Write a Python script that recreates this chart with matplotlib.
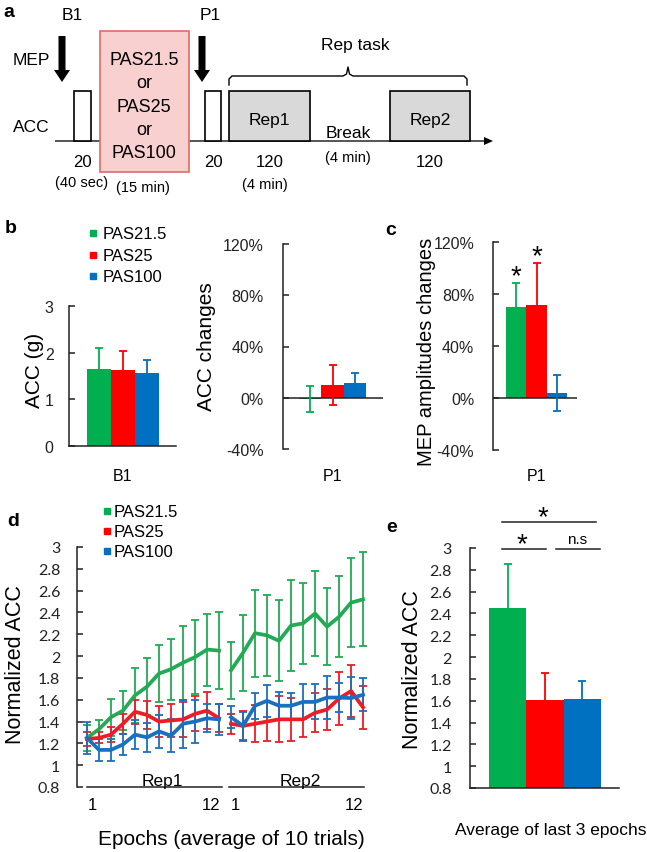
import matplotlib
matplotlib.use('Agg')
import matplotlib.pyplot as plt
from matplotlib.patches import Rectangle, FancyArrow
import numpy as np

plt.rcParams['font.family'] = ['Liberation Sans', 'DejaVu Sans']

# ---------------- data ----------------
groups = ['PAS21.5', 'PAS25', 'PAS100']
colors = ['#00b050', '#ff0000', '#0070c0']

acc_b1 = [1.65, 1.63, 1.56]
acc_b1_err = [0.45, 0.41, 0.29]

acc_chg_p1 = [-1.0, 10.0, 11.6]
acc_chg_err = [10.0, 15.5, 8.0]

mep_chg_p1 = [70.0, 71.5, 4.0]
mep_chg_err = [18.5, 32.5, 14.0]
mep_sig = [True, True, False]

green_rep1 = [1.25, 1.33, 1.44, 1.50, 1.64, 1.72, 1.84, 1.88, 1.94, 1.99, 2.06, 2.05]
green_rep1_err = [0.12, 0.08, 0.17, 0.18, 0.25, 0.26, 0.26, 0.28, 0.34, 0.34, 0.33, 0.35]
green_rep2 = [1.87, 2.03, 2.21, 2.19, 2.14, 2.28, 2.30, 2.39, 2.27, 2.36, 2.49, 2.52]
green_rep2_err = [0.26, 0.35, 0.40, 0.37, 0.37, 0.42, 0.37, 0.39, 0.35, 0.37, 0.41, 0.43]

red_rep1 = [1.24, 1.25, 1.28, 1.38, 1.49, 1.46, 1.40, 1.41, 1.42, 1.47, 1.50, 1.43]
red_rep1_err = [0.06, 0.05, 0.07, 0.09, 0.11, 0.13, 0.14, 0.15, 0.16, 0.16, 0.17, 0.13]
red_rep2 = [1.38, 1.36, 1.38, 1.40, 1.42, 1.42, 1.42, 1.48, 1.51, 1.61, 1.68, 1.53]
red_rep2_err = [0.09, 0.14, 0.17, 0.18, 0.21, 0.20, 0.16, 0.18, 0.19, 0.245, 0.24, 0.20]

blue_rep1 = [1.25, 1.14, 1.14, 1.19, 1.28, 1.255, 1.31, 1.27, 1.38, 1.40, 1.43, 1.42]
blue_rep1_err = [0.15, 0.10, 0.10, 0.10, 0.13, 0.13, 0.15, 0.15, 0.22, 0.20, 0.13, 0.14]
blue_rep2 = [1.44, 1.36, 1.545, 1.59, 1.545, 1.545, 1.58, 1.58, 1.62, 1.62, 1.615, 1.645]
blue_rep2_err = [0.10, 0.13, 0.12, 0.145, 0.125, 0.12, 0.16, 0.16, 0.20, 0.13, 0.19, 0.15]

last3_avg = [2.45, 1.61, 1.62]
last3_err = [0.40, 0.24, 0.16]

d_yticks = [0.8, 1, 1.2, 1.4, 1.6, 1.8, 2, 2.2, 2.4, 2.6, 2.8, 3]
pct_ticks = [-40, 0, 40, 80, 120]
epoch_labels = ['1', '12', '1', '12']
pas_box_lines = ['PAS21.5', 'or', 'PAS25', 'or', 'PAS100']

# ---------------- figure ----------------
W, H = 647, 853
fig = plt.figure(figsize=(W / 100, H / 100), dpi=100)

axo = fig.add_axes([0, 0, 1, 1])
axo.set_xlim(0, W)
axo.set_ylim(H, 0)
axo.axis('off')


def ax_px(l, t, r, b):
    return fig.add_axes([l / W, 1 - b / H, (r - l) / W, (b - t) / H], facecolor='none')


def style(ax, pad):
    for s in ['top', 'right']:
        ax.spines[s].set_visible(False)
    for s in ['left', 'bottom']:
        ax.spines[s].set_linewidth(1.1)
        ax.spines[s].set_color('#222222')
    ax.tick_params(axis='y', direction='in', length=4, width=1.1, pad=pad, colors='#222222')
    ax.tick_params(axis='x', length=0)
    ax.set_xticks([])


def T(x, y, s, size=12, ha='center', va='baseline', **kw):
    axo.text(x, y, s, fontsize=size, ha=ha, va=va, **kw)


# ---------------- panel a (schematic) ----------------
T(9, 17, 'a', size=14, weight='bold')
T(72, 20, 'B1', size=12.5)
T(210, 20, 'P1', size=12.5)
for ax_x in (62, 202):
    axo.add_patch(FancyArrow(ax_x, 37, 0, 46, width=7, head_width=16, head_length=12,
                             length_includes_head=True, color='black', lw=0))
T(31, 65, 'MEP', size=12.5)
T(31, 132, 'ACC', size=12.5)
axo.add_patch(FancyArrow(55, 142, 438, 0, width=1.3, head_width=8, head_length=9,
                         length_includes_head=True, color='black', lw=0))
axo.add_patch(Rectangle((74, 92), 17, 50, facecolor='white', edgecolor='black', lw=1.2))
axo.add_patch(Rectangle((205, 92), 16, 50, facecolor='white', edgecolor='black', lw=1.2))
axo.add_patch(Rectangle((100, 32), 89, 141, facecolor='#f9d0d0', edgecolor='#e06a6a', lw=1.2))
axo.add_patch(Rectangle((229, 92), 81, 50, facecolor='#d9d9d9', edgecolor='black', lw=1.2))
axo.add_patch(Rectangle((390, 92), 80, 50, facecolor='#d9d9d9', edgecolor='black', lw=1.2))
for i, s in enumerate(pas_box_lines):
    T(144, 65 + 23.3 * i, s, size=13)
# brace
bx = [229, 229, 232, 343, 346.5, 348, 349.5, 353, 464, 467, 467]
by = [86, 80, 77, 77, 75, 68, 75, 77, 77, 80, 86]
axo.plot(bx, by, color='black', lw=1.0)
T(355, 50, 'Rep task', size=12.5)
T(269, 125, 'Rep1', size=12.5)
T(430, 125, 'Rep2', size=12.5)
T(348, 138, 'Break', size=12.5)
T(348, 162, '(4 min)', size=10.5)
T(82, 167, '20', size=12)
T(82, 187, '(40 sec)', size=10.5)
T(143, 192, '(15 min)', size=10.5)
T(213, 167, '20', size=12)
T(270, 167, '120', size=12)
T(265, 189, '(4 min)', size=10.5)
T(430, 167, '120', size=12)

# ---------------- panel b ----------------
T(11, 233, 'b', size=14, weight='bold')
for i, (g, c) in enumerate(zip(groups, colors)):
    yb = [239, 261, 282][i]
    axo.plot([93], [yb - 5.5], marker='s', ms=5, color=c, lw=0)
    T(103, yb, g, size=12, ha='left')

x = np.arange(3)
axb1 = ax_px(69, 307, 176, 447)
style(axb1, 11)
axb1.bar(x, acc_b1, width=1, color=colors)
for xi, v, e, c in zip(x, acc_b1, acc_b1_err, colors):
    axb1.errorbar(xi, v, yerr=e, color=c, capsize=3, elinewidth=1.3, capthick=1.3, zorder=3)
axb1.set_xlim(-1.25, 3.2)
axb1.set_ylim(0, 3)
axb1.set_yticks([0, 1, 2, 3])
axb1.tick_params(axis='y', labelsize=11.5)
T(34, 370, 'ACC (g)', size=15, rotation=90, va='center')
T(123, 481, 'B1', size=11.5)

axb2 = ax_px(283, 245, 383, 450)
style(axb2, 14)
axb2.spines['bottom'].set_visible(False)
axb2.axhline(0, color='#222222', lw=1.1)
axb2.bar(x, acc_chg_p1, width=1, color=colors)
for xi, v, e, c in zip(x, acc_chg_p1, acc_chg_err, colors):
    axb2.errorbar(xi, v, yerr=e, color=c, capsize=3, elinewidth=1.3, capthick=1.3, zorder=3)
axb2.set_xlim(-1.22, 3.26)
axb2.set_ylim(-40, 120)
axb2.set_yticks(pct_ticks)
axb2.set_yticklabels([f'{t}%' for t in pct_ticks])
axb2.tick_params(axis='y', labelsize=11.5)
T(206, 347, 'ACC changes', size=15, rotation=90, va='center')
T(333, 481, 'P1', size=11.5)

# ---------------- panel c ----------------
T(391, 235, 'c', size=14, weight='bold')
axc = ax_px(493, 243, 577, 451)
style(axc, 13.5)
axc.spines['bottom'].set_visible(False)
axc.axhline(0, color='#222222', lw=1.1)
axc.bar(x, mep_chg_p1, width=1, color=colors)
for xi, v, e, c, sg in zip(x, mep_chg_p1, mep_chg_err, colors, mep_sig):
    axc.errorbar(xi, v, yerr=e, color=c, capsize=3, elinewidth=1.3, capthick=1.3, zorder=3)
    if sg:
        axc.annotate('*', xy=(xi, v + e + 12), xytext=(0, -0.56 * 20), textcoords='offset points',
                     ha='center', va='baseline', fontsize=20, annotation_clip=False)
axc.set_xlim(-1.14, 2.99)
axc.set_ylim(-40, 120)
axc.set_yticks(pct_ticks)
axc.set_yticklabels([f'{t}%' for t in pct_ticks])
axc.tick_params(axis='y', labelsize=11.5)
T(426, 352, 'MEP amplitudes changes', size=14.5, rotation=90, va='center')
T(537, 481, 'P1', size=11.5)

# ---------------- panel d ----------------
T(13, 526, 'd', size=14, weight='bold')
for i, (g, c) in enumerate(zip(groups, colors)):
    yb = [517, 537, 557][i]
    axo.plot([107], [yb - 5.5], marker='s', ms=5, color=c, lw=0)
    T(114, yb, g, size=12, ha='left')

axd = ax_px(77, 548, 370, 788)
style(axd, 12)
axd.spines['bottom'].set_visible(False)
x1 = np.arange(12)
x2 = np.arange(12, 24)
series = [
    (green_rep1, green_rep1_err, green_rep2, green_rep2_err, '#22aa55'),
    (red_rep1, red_rep1_err, red_rep2, red_rep2_err, '#ee1c24'),
    (blue_rep1, blue_rep1_err, blue_rep2, blue_rep2_err, '#1a70c0'),
]
for r1, e1, r2, e2, c in series:
    for xx, vv, ee in ((x1, r1, e1), (x2, r2, e2)):
        axd.errorbar(xx, vv, yerr=ee, color=c, lw=2.7, elinewidth=1.3, capsize=3, capthick=1.3)
axd.set_xlim(-0.833, 23.58)
axd.set_ylim(0.8, 3)
axd.set_yticks(d_yticks)
axd.set_yticklabels([f'{t:g}' for t in d_yticks], fontfamily='Lato', fontsize=11.5)
axd.plot([x1[0], x1[-1] + 0.25], [0.8, 0.8], color='#222222', lw=1.1, clip_on=False)
axd.plot([x2[0] - 0.17, x2[-1] + 0.08], [0.8, 0.8], color='#222222', lw=1.1, clip_on=False)
axd.text(x1.mean() + 0.75, 0.818, 'Rep1', fontsize=12.5, ha='center', va='baseline')
axd.text(x2.mean() + 0.25, 0.818, 'Rep2', fontsize=12.5, ha='center', va='baseline')
tick_x = [x1[0] + 0.05, x1[-1] + 0.1, x2[0] - 0.05, x2[-1] + 0.05]
tick_ha = ['left', 'right', 'left', 'right']
for tx, lab, ha in zip(tick_x, epoch_labels, tick_ha):
    axd.text(tx, 0.6, lab, fontsize=12, ha=ha, va='baseline',
             transform=axd.transData)
T(16, 665, 'Normalized ACC', size=15.5, rotation=90, va='center')
T(231, 845, 'Epochs (average of 10 trials)', size=15)

# ---------------- panel e ----------------
T(392, 532, 'e', size=14, weight='bold')
axe = ax_px(470, 549, 619, 789)
style(axe, 13)
axe.bar(x, last3_avg, width=1, color=colors)
for xi, v, e, c in zip(x, last3_avg, last3_err, colors):
    axe.errorbar(xi, v, yerr=e, color=c, capsize=3, elinewidth=1.3, capthick=1.3, zorder=3)
axe.set_xlim(-1.01, 2.98)
axe.set_ylim(0.8, 3)
axe.set_yticks(d_yticks)
axe.set_yticklabels([f'{t:g}' for t in d_yticks], fontfamily='Lato', fontsize=11.5)
axe.plot([-0.15, 2.37], [3.24, 3.24], color='#222222', lw=1.1, clip_on=False)
axe.plot([-0.15, 1.03], [2.99, 2.99], color='#222222', lw=1.1, clip_on=False)
axe.plot([1.30, 2.48], [2.99, 2.99], color='#222222', lw=1.1, clip_on=False)
for sx, sy in ((0.95, 3.36), (0.38, 3.11)):
    axe.annotate('*', xy=(sx, sy), xytext=(0, -0.56 * 20), textcoords='offset points',
                 ha='center', va='baseline', fontsize=20, annotation_clip=False)
axe.text(1.86, 3.05, 'n.s', fontsize=11, ha='center', va='baseline')
T(413, 670, 'Normalized ACC', size=15.5, rotation=90, va='center')
T(551, 835, 'Average of last 3 epochs', size=12.5)

fig.savefig('out.png', dpi=100)
